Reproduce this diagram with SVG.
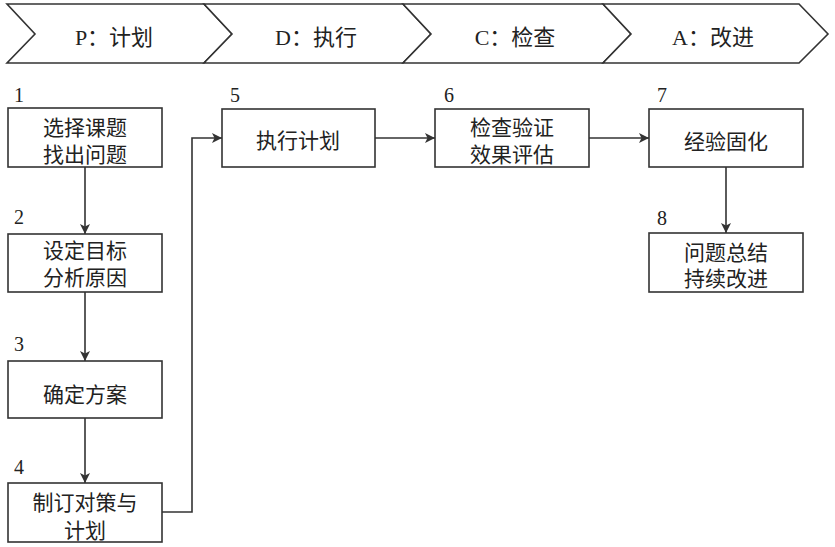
<svg xmlns="http://www.w3.org/2000/svg" width="835" height="547" viewBox="0 0 835 547">
<style>
.shape{fill:#fff;stroke:#333;stroke-width:1.6}
.t{font-family:"Liberation Serif","Noto Sans CJK SC",serif;font-size:21px;fill:#222;text-anchor:middle}
.h{font-family:"Liberation Serif","Noto Sans CJK SC",serif;font-size:22px;fill:#222;text-anchor:middle}
.n{font-family:"Liberation Serif",serif;font-size:20px;fill:#222}
.c{fill:none;stroke:#333;stroke-width:1.6}
</style>
<defs>
<marker id="arr" viewBox="0 0 10 10" refX="10" refY="5" markerWidth="10" markerHeight="10" markerUnits="userSpaceOnUse" orient="auto">
<path d="M0,0 L10,5 L0,10 L2.5,5 Z" fill="#333"/>
</marker>
</defs>
<rect width="835" height="547" fill="#fff"/>
<g id="phase-P"><path class="shape" d="M7,4 L204,4 L232,34 L204,63 L7,63 L35,34 Z"/><text class="h" x="114" y="45">P：计划</text></g>
<g id="phase-D"><path class="shape" d="M204,4 L403,4 L431,34 L403,63 L204,63 L232,34 Z"/><text class="h" x="316" y="45">D：执行</text></g>
<g id="phase-C"><path class="shape" d="M403,4 L603,4 L631,34 L603,63 L403,63 L431,34 Z"/><text class="h" x="515" y="45">C：检查</text></g>
<g id="phase-A"><path class="shape" d="M603,4 L799,4 L828,34 L799,63 L603,63 L631,34 Z"/><text class="h" x="713" y="45">A：改进</text></g>

<g id="connectors">
<line class="c" x1="85" y1="167" x2="85" y2="234" marker-end="url(#arr)"/>
<line class="c" x1="85" y1="292" x2="85" y2="361" marker-end="url(#arr)"/>
<line class="c" x1="85" y1="418" x2="85" y2="483" marker-end="url(#arr)"/>
<polyline class="c" points="162,512 192,512 192,138 222,138" marker-end="url(#arr)"/>
<line class="c" x1="375" y1="138" x2="435" y2="138" marker-end="url(#arr)"/>
<line class="c" x1="589" y1="138" x2="649" y2="138" marker-end="url(#arr)"/>
<line class="c" x1="726" y1="167" x2="726" y2="233" marker-end="url(#arr)"/>
</g>

<g id="node1"><text class="n" x="14" y="102">1</text><rect class="shape" x="8" y="108" width="154" height="59"/><text class="t" x="85" y="135">选择课题</text><text class="t" x="85" y="162">找出问题</text></g>
<g id="node2"><text class="n" x="14" y="224">2</text><rect class="shape" x="8" y="234" width="154" height="58"/><text class="t" x="85" y="258">设定目标</text><text class="t" x="85" y="285">分析原因</text></g>
<g id="node3"><text class="n" x="14" y="351">3</text><rect class="shape" x="8" y="361" width="154" height="57"/><text class="t" x="85" y="402">确定方案</text></g>
<g id="node4"><text class="n" x="14" y="474">4</text><rect class="shape" x="8" y="483" width="154" height="59"/><text class="t" x="85" y="510">制订对策与</text><text class="t" x="85" y="538">计划</text></g>
<g id="node5"><text class="n" x="230" y="102">5</text><rect class="shape" x="222" y="109" width="153" height="58"/><text class="t" x="298" y="148">执行计划</text></g>
<g id="node6"><text class="n" x="444" y="102">6</text><rect class="shape" x="435" y="109" width="154" height="58"/><text class="t" x="512" y="135">检查验证</text><text class="t" x="512" y="162">效果评估</text></g>
<g id="node7"><text class="n" x="657" y="102">7</text><rect class="shape" x="649" y="109" width="154" height="58"/><text class="t" x="726" y="149">经验固化</text></g>
<g id="node8"><text class="n" x="657" y="225">8</text><rect class="shape" x="649" y="233" width="154" height="59"/><text class="t" x="726" y="260">问题总结</text><text class="t" x="726" y="286">持续改进</text></g>
</svg>
